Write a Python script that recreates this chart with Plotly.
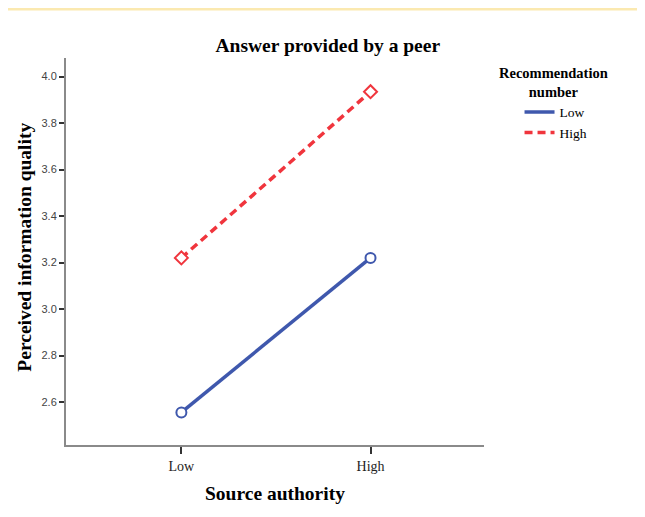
import plotly.graph_objects as go

# Source authority levels (x categories)
source_authority = ['Low', 'High']

# Estimated marginal means per recommendation number
rec_low = [2.555, 3.22]
rec_high = [3.22, 3.935]

y_ticks = [2.6, 2.8, 3.0, 3.2, 3.4, 3.6, 3.8, 4.0]

SERIF = 'Liberation Serif, Times New Roman, serif'
SANS = 'Liberation Sans, Arial, sans-serif'
BLUE = '#3f58ad'
RED = '#f0353d'


def main():
    fig = go.Figure()

    x = [0, 1]
    # lines (these carry the legend entries)
    fig.add_trace(go.Scatter(x=x, y=rec_low, name='Low', mode='lines',
                             line=dict(color=BLUE, width=3.5)))
    fig.add_trace(go.Scatter(x=x, y=rec_high, name='High', mode='lines',
                             line=dict(color=RED, width=3.5, dash='8px,5px')))
    # markers on top, white filled
    fig.add_trace(go.Scatter(x=x, y=rec_low, mode='markers', showlegend=False,
                             marker=dict(symbol='circle', size=10, color='white',
                                         line=dict(color=BLUE, width=2))))
    fig.add_trace(go.Scatter(x=x, y=rec_high, mode='markers', showlegend=False,
                             marker=dict(symbol='diamond', size=10, color='white',
                                         line=dict(color=RED, width=2))))

    # page body has an 8px margin, so the figure is a bit smaller
    fig.update_layout(
        width=637, height=509,
        margin=dict(l=58, r=161, t=50, b=72),
        paper_bgcolor='white',
        plot_bgcolor='white',
        title=dict(
            text='<b>Answer provided by a peer</b>',
            x=0.502, xanchor='center', y=1 - 37 / 509, yanchor='middle',
            font=dict(family=SERIF, size=19.5, color='black'),
        ),
        xaxis=dict(
            range=[-0.61, 1.6], automargin=False,
            tickmode='array', tickvals=x, ticktext=source_authority,
            showgrid=False, zeroline=False,
            showline=True, linecolor='#8a8a8a', linewidth=2,
            ticks='outside', ticklen=7, tickcolor='#333', tickwidth=1.5,
            tickfont=dict(family=SERIF, size=14, color='#222'),
        ),
        yaxis=dict(
            range=[2.415, 4.08], automargin=False,
            tickmode='array', tickvals=y_ticks,
            ticktext=[f'{v:.1f}' for v in y_ticks],
            showgrid=False, zeroline=False,
            showline=True, linecolor='#8a8a8a', linewidth=2,
            ticks='outside', ticklen=5, tickcolor='#333', tickwidth=1.5,
            tickfont=dict(family=SANS, size=11, color='#444'),
        ),
        legend=dict(
            x=1.085, xanchor='left', y=0.9, yanchor='top',
            font=dict(family=SERIF, size=13.5, color='black'),
            itemwidth=30, tracegroupgap=0,
            bgcolor='rgba(0,0,0,0)',
        ),
        annotations=[
            dict(text='<b>Source authority</b>', xref='paper', yref='paper',
                 x=0.5, y=-48 / 387, xanchor='center', yanchor='middle',
                 showarrow=False, font=dict(family=SERIF, size=19.5, color='black')),
            dict(text='<b>Perceived information quality</b>', xref='paper', yref='paper',
                 x=-41 / 418, y=0.51, xanchor='center', yanchor='middle', textangle=-90,
                 showarrow=False, font=dict(family=SERIF, size=19.5, color='black')),
            dict(text='<b>Recommendation<br>number</b>', xref='paper', yref='paper',
                 x=1 + 69 / 418, y=1 - 24 / 387, xanchor='center', yanchor='middle',
                 showarrow=False, align='center',
                 font=dict(family=SERIF, size=14.5, color='black')),
        ],
        shapes=[dict(
            type='line', xref='paper', yref='paper',
            x0=-0.2, x1=1.4, y0=1 + 49 / 387, y1=1 + 49 / 387,
            line=dict(color='#fbe9b0', width=3),
        )],
    )

    fig.write_html('out.html')


if __name__ == '__main__':
    main()
